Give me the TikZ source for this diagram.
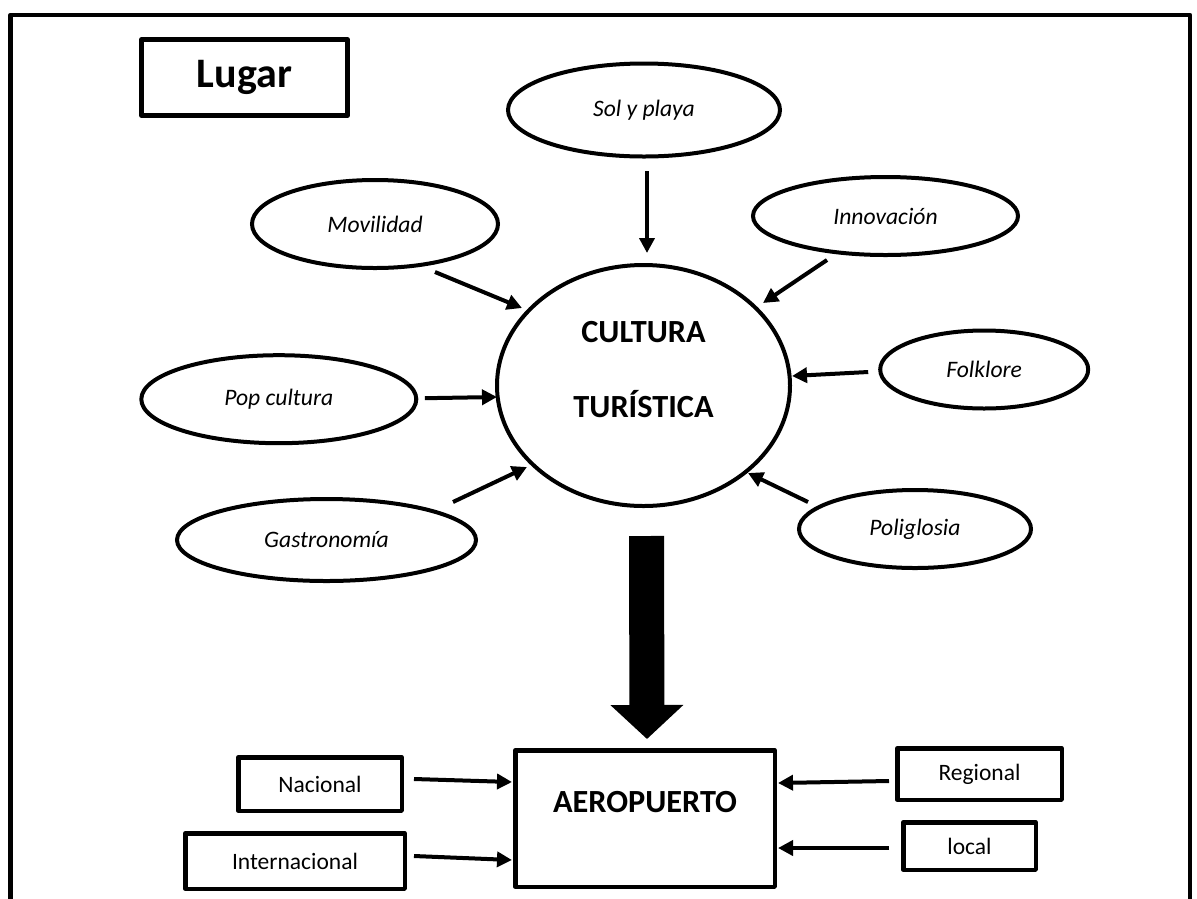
\documentclass[tikz,border=0pt]{standalone}
\usepackage{fontspec}
\setmainfont{Carlito}
\usetikzlibrary{arrows.meta,shapes.geometric,calc}
\begin{document}
\begin{tikzpicture}[x=1pt,y=-1pt,
  ell/.style={draw, ellipse, line width=4pt, inner sep=0pt, font=\fontsize{23.6}{28}\selectfont\itshape},
  box/.style={draw, rectangle, line width=4.5pt, line join=round, inner sep=0pt, font=\fontsize{23.5}{28}\selectfont},
  arr/.style={line width=4pt, -{Triangle[length=15pt,width=15pt]}},
  bigarr/.style={line width=35pt, -{Triangle[length=34pt,width=71pt]}},
  frame/.style={draw, line width=4.5pt, line join=round},
  bigtext/.style={font=\fontsize{32.3}{75}\selectfont\bfseries, align=center}
]
\useasboundingbox (0,0) rectangle (1197,898);
\fill[white] (0,0) rectangle (1197,898);
\draw[frame] (10.5,930) -- (10.5,15) -- (1190,15) -- (1190,930);

\node[box, minimum width=206pt, minimum height=76pt, font=\fontsize{42}{50}\selectfont\bfseries] (lugar) at (244.5,77.5) {Lugar};

\node[ell, minimum width=272pt, minimum height=93pt] (sol) at (644,110) {Sol y playa};
\node[ell, minimum width=246pt, minimum height=88pt] (mov) at (375,224) {Movilidad};
\node[ell, minimum width=265pt, minimum height=78pt] (inn) at (885.5,216) {Innovación};
\node[ell, minimum width=275pt, minimum height=88pt] (pop) at (278.8,399.2) {Pop cultura};
\node[ell, minimum width=208pt, minimum height=78pt] (folk) at (984.2,369.5) {Folklore};
\node[ell, minimum width=299pt, minimum height=82pt] (gas) at (326.5,540) {Gastronomía};
\node[ell, minimum width=232pt, minimum height=78pt] (pol) at (915,529) {Poliglosia};

\node[draw, ellipse, line width=4pt, inner sep=0pt, minimum width=293pt, minimum height=241pt,
  label={[bigtext, yshift=15.5pt]center:CULTURA\\TURÍSTICA}] (cult) at (643.5,385.5) {};

\node[box, minimum width=259.5pt, minimum height=136.5pt,
  label={[font=\fontsize{32.3}{38}\selectfont\bfseries, yshift=16pt]center:AEROPUERTO}] (aero) at (645,818.5) {};

\node[box, minimum width=163.5pt, minimum height=53.5pt] (nac) at (320,784) {Nacional};
\node[box, minimum width=219.5pt, minimum height=55.5pt] (int) at (295,861) {Internacional};
\node[box, minimum width=164.5pt, minimum height=51.5pt] (reg) at (979.5,774) {Regional};
\node[box, minimum width=132.5pt, minimum height=47.5pt] (loc) at (969.5,846) {local};

% arrows into cultura
\draw[arr] ($(sol.center)+(3,61)$) -- ($(cult.center)+(3.5,-132.5)$);
\draw[arr] ($(mov.center)+(60,48)$) -- ($(cult.center)+(-121.5,-77.5)$);
\draw[arr] ($(inn.center)+(-58.5,44)$) -- ($(cult.center)+(119.5,-82.5)$);
\draw[arr] ($(pop.center)+(146,-1)$) -- ($(cult.center)+(-146.5,11.5)$);
\draw[arr] ($(folk.center)+(-116,2.5)$) -- ($(cult.center)+(148.5,-9.5)$);
\draw[arr] ($(gas.center)+(126.5,-38)$) -- ($(cult.center)+(-116.5,81.5)$);
\draw[arr] ($(pol.center)+(-107,-27)$) -- ($(cult.center)+(104.5,87.5)$);

% big arrow
\draw[bigarr] ($(cult.south)+(3,28)$) -- ($(aero.north)+(2,-9)$);

% arrows into aeropuerto
\draw[arr] ($(nac.center)+(94,-5)$) -- ($(aero.center)+(-133,-36.5)$);
\draw[arr] ($(int.center)+(119,-5)$) -- ($(aero.center)+(-133,41.5)$);
\draw[arr] ($(reg.center)+(-90.5,7)$) -- ($(aero.center)+(133,-35.5)$);
\draw[arr] ($(loc.center)+(-80.5,2)$) -- ($(aero.center)+(133,29.5)$);
\end{tikzpicture}
\end{document}
